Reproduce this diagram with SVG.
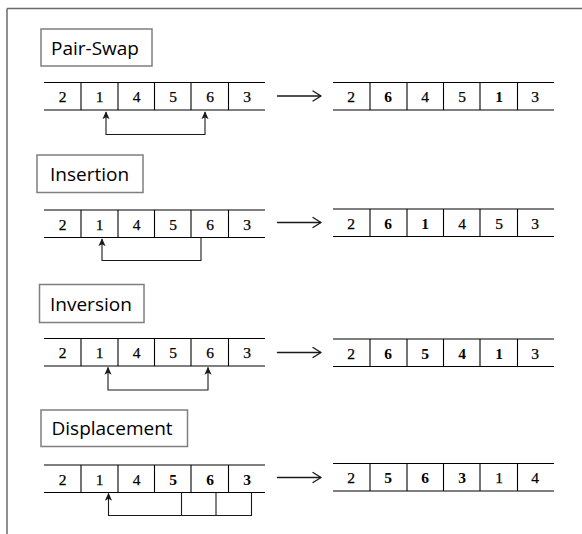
<svg xmlns="http://www.w3.org/2000/svg" xmlns:xlink="http://www.w3.org/1999/xlink" width="582" height="534" viewBox="0 0 582 534">
  <style>
    .frame { stroke: #6a6a6a; stroke-width: 1.5; fill: none; }
    .label-box { fill: #ffffff; stroke: #7f7f7f; stroke-width: 1.5; }
    .label { font-family: "Open Sans", "Noto Sans", sans-serif; font-size: 19px; fill: #000000; }
    .cell-line { stroke: #000000; stroke-width: 1.1; fill: none; }
    .num { font-family: "Liberation Serif", "Times New Roman", serif; font-size: 15.5px; fill: #000000; stroke: #000000; stroke-width: 0.25; text-anchor: middle; }
    .num.b { font-weight: bold; stroke-width: 0; }
    .link { stroke: #1a1a1a; stroke-width: 1.1; fill: none; stroke-linejoin: round; }
    .flow { stroke: #1a1a1a; stroke-width: 1.4; fill: none; stroke-linecap: round; stroke-linejoin: round; }
  </style>
  <defs>
    <!-- six-cell strip: top/bottom rules and five dividers -->
    <g id="strip">
      <line class="cell-line" x1="0" y1="0" x2="221" y2="0"/>
      <line class="cell-line" x1="0" y1="27.5" x2="221" y2="27.5"/>
      <line class="cell-line" x1="37" y1="0" x2="37" y2="27.5"/>
      <line class="cell-line" x1="74" y1="0" x2="74" y2="27.5"/>
      <line class="cell-line" x1="110.5" y1="0" x2="110.5" y2="27.5"/>
      <line class="cell-line" x1="147" y1="0" x2="147" y2="27.5"/>
      <line class="cell-line" x1="184.5" y1="0" x2="184.5" y2="27.5"/>
    </g>
    <marker id="tip" viewBox="0 0 10 10" refX="9" refY="5" markerWidth="8" markerHeight="8" orient="auto-start-reverse" markerUnits="userSpaceOnUse">
      <path d="M0,0.5 L10,5 L0,9.5 L2.5,5 Z" fill="#1a1a1a"/>
    </marker>
    <!-- open arrow between the before/after strips -->
    <g id="step">
      <line class="flow" x1="0" y1="0" x2="43" y2="0"/>
      <polyline class="flow" points="35.5,-5 43.5,0 35.5,5"/>
    </g>
  </defs>

  <!-- outer frame (top and left edges) -->
  <g id="frame">
    <line class="frame" x1="7" y1="8.5" x2="582" y2="8.5"/>
    <line class="frame" x1="7" y1="8.5" x2="7" y2="534"/>
  </g>

  <!-- Pair-Swap -->
  <g id="pairswap">
    <g id="pairswap-label">
      <rect class="label-box" x="41" y="29" width="111" height="37"/>
      <text class="label" x="51" y="55">Pair-Swap</text>
    </g>
    <g id="pairswap-before">
      <use xlink:href="#strip" href="#strip" x="44" y="82.5"/>
      <text class="num" x="62.5" y="102">2</text>
      <text class="num" x="99.5" y="102">1</text>
      <text class="num" x="136.5" y="102">4</text>
      <text class="num" x="173" y="102">5</text>
      <text class="num" x="210" y="102">6</text>
      <text class="num" x="247" y="102">3</text>
    </g>
    <g id="pairswap-after">
      <use xlink:href="#strip" href="#strip" x="333" y="82.5"/>
      <text class="num" x="351" y="102">2</text>
      <text class="num b" x="388" y="102">6</text>
      <text class="num" x="425" y="102">4</text>
      <text class="num" x="462" y="102">5</text>
      <text class="num b" x="499" y="102">1</text>
      <text class="num" x="535" y="102">3</text>
    </g>
  </g>

  <!-- Insertion -->
  <g id="insertion">
    <g id="insertion-label">
      <rect class="label-box" x="37" y="155" width="106" height="37.5"/>
      <text class="label" x="50" y="181">Insertion</text>
    </g>
    <g id="insertion-before">
      <use xlink:href="#strip" href="#strip" x="44" y="210"/>
      <text class="num" x="62.5" y="229.5">2</text>
      <text class="num" x="99.5" y="229.5">1</text>
      <text class="num" x="136.5" y="229.5">4</text>
      <text class="num" x="173" y="229.5">5</text>
      <text class="num" x="210" y="229.5">6</text>
      <text class="num" x="247" y="229.5">3</text>
    </g>
    <g id="insertion-after">
      <use xlink:href="#strip" href="#strip" x="333" y="209"/>
      <text class="num" x="351" y="228.5">2</text>
      <text class="num b" x="388" y="228.5">6</text>
      <text class="num b" x="425" y="228.5">1</text>
      <text class="num" x="462" y="228.5">4</text>
      <text class="num" x="499" y="228.5">5</text>
      <text class="num" x="535" y="228.5">3</text>
    </g>
  </g>

  <!-- Inversion -->
  <g id="inversion">
    <g id="inversion-label">
      <rect class="label-box" x="39.5" y="284.5" width="104.5" height="38"/>
      <text class="label" x="50" y="311">Inversion</text>
    </g>
    <g id="inversion-before">
      <use xlink:href="#strip" href="#strip" x="44" y="338.5"/>
      <text class="num" x="62.5" y="358">2</text>
      <text class="num" x="99.5" y="358">1</text>
      <text class="num" x="136.5" y="358">4</text>
      <text class="num" x="173" y="358">5</text>
      <text class="num" x="210" y="358">6</text>
      <text class="num" x="247" y="358">3</text>
    </g>
    <g id="inversion-after">
      <use xlink:href="#strip" href="#strip" x="333" y="339"/>
      <text class="num" x="351" y="358.5">2</text>
      <text class="num b" x="388" y="358.5">6</text>
      <text class="num b" x="425" y="358.5">5</text>
      <text class="num b" x="462" y="358.5">4</text>
      <text class="num b" x="499" y="358.5">1</text>
      <text class="num" x="535" y="358.5">3</text>
    </g>
  </g>

  <!-- Displacement -->
  <g id="displacement">
    <g id="displacement-label">
      <rect class="label-box" x="41" y="410" width="146.5" height="36.5"/>
      <text class="label" x="51.5" y="435">Displacement</text>
    </g>
    <g id="displacement-before">
      <use xlink:href="#strip" href="#strip" x="44" y="465"/>
      <text class="num" x="62.5" y="484.5">2</text>
      <text class="num" x="99.5" y="484.5">1</text>
      <text class="num" x="136.5" y="484.5">4</text>
      <text class="num b" x="173" y="484.5">5</text>
      <text class="num b" x="210" y="484.5">6</text>
      <text class="num b" x="247" y="484.5">3</text>
    </g>
    <g id="displacement-after">
      <use xlink:href="#strip" href="#strip" x="333" y="463.5"/>
      <text class="num" x="351" y="483">2</text>
      <text class="num b" x="388" y="483">5</text>
      <text class="num b" x="425" y="483">6</text>
      <text class="num b" x="462" y="483">3</text>
      <text class="num" x="499" y="483">1</text>
      <text class="num" x="535" y="483">4</text>
    </g>
  </g>

  <!-- connectors: move brackets under the strips and before/after arrows -->
  <g id="connectors">
    <path class="link" d="M106,112 V134.5 H205 V112" marker-start="url(#tip)" marker-end="url(#tip)"/>
    <path class="link" d="M102,239 V260.5 H201 V237.5" marker-start="url(#tip)"/>
    <path class="link" d="M108,367.5 V390 H208 V367.5" marker-start="url(#tip)" marker-end="url(#tip)"/>
    <path class="link" d="M108.5,493.5 V515.5 H251.5 V492.5" marker-start="url(#tip)"/>
    <path class="link" d="M181.5,492.5 V515.5"/>
    <path class="link" d="M216,492.5 V515.5"/>

    <use xlink:href="#step" href="#step" x="277.5" y="96"/>
    <use xlink:href="#step" href="#step" x="277.5" y="222.5"/>
    <use xlink:href="#step" href="#step" x="277.5" y="352.5"/>
    <use xlink:href="#step" href="#step" x="277.5" y="477.5"/>
  </g>
</svg>
